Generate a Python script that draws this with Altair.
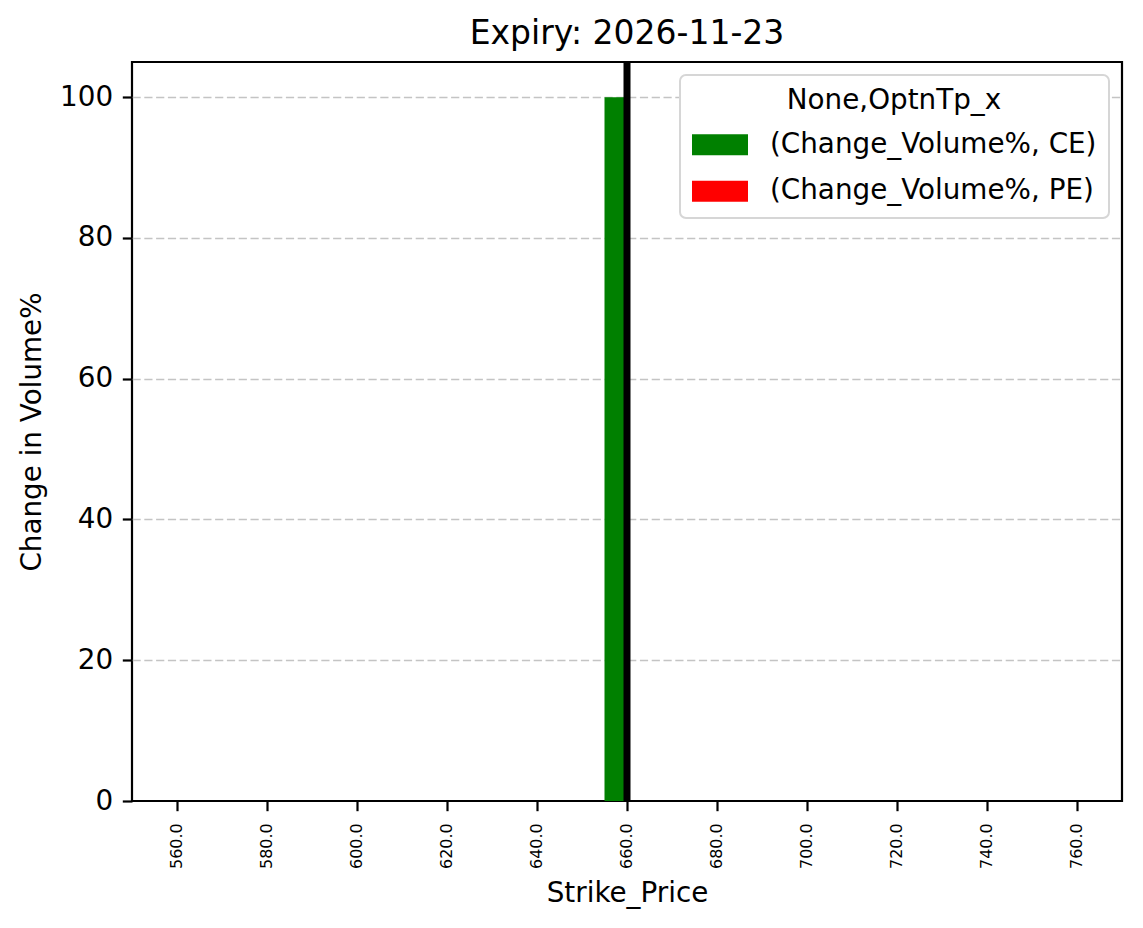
import altair as alt
import pandas as pd

strikes = ["560.0", "580.0", "600.0", "620.0", "640.0", "660.0",
           "680.0", "700.0", "720.0", "740.0", "760.0"]
ce_values = [0, 0, 0, 0, 0, 100, 0, 0, 0, 0, 0]
pe_values = [0, 0, 0, 0, 0, 0, 0, 0, 0, 0, 0]
series = ["(Change_Volume%, CE)", "(Change_Volume%, PE)"]
colors = ["#008000", "#ff0000"]
atm_strike = ["660.0"]
y_ticks = [0, 20, 40, 60, 80, 100]

rows = []
for s, c, p in zip(strikes, ce_values, pe_values):
    rows.append({"Strike_Price": s, "series": series[0], "value": c})
    rows.append({"Strike_Price": s, "series": series[1], "value": p})
df = pd.DataFrame(rows)
atm = pd.DataFrame({"Strike_Price": atm_strike})

FONT = "DejaVu Sans"

x_enc = alt.X(
    "Strike_Price:N",
    sort=strikes,
    scale=alt.Scale(domain=strikes, paddingInner=0.5, paddingOuter=0.25),
    axis=alt.Axis(
        title="Strike_Price",
        labelAngle=270,
        labelFontSize=16,
        labelPadding=12,
        tickSize=9.7,
        tickWidth=2.2,
        tickColor="black",
        grid=False,
        domain=False,
        titlePadding=11,
    ),
)

bars = alt.Chart(df).mark_bar().encode(
    x=x_enc,
    xOffset=alt.XOffset("series:N", sort=series,
                        scale=alt.Scale(domain=series, paddingInner=0, paddingOuter=0)),
    y=alt.Y(
        "value:Q",
        scale=alt.Scale(domain=[0, 105], nice=False, zero=True),
        axis=alt.Axis(
            title="Change in Volume%",
            values=y_ticks,
            labelFontSize=27.8,
            labelPadding=9.7,
            tickSize=9.7,
            tickWidth=2.2,
            tickColor="black",
            grid=True,
            gridColor="#c4c4c4",
            gridWidth=1.4,
            gridDash=[8.2, 3.6],
            gridOpacity={"condition": {"test": "datum.value === 0", "value": 0}, "value": 1},
            domain=False,
            titlePadding=13,
        ),
    ),
    color=alt.Color(
        "series:N",
        sort=series,
        scale=alt.Scale(domain=series, range=colors),
        legend=alt.Legend(title="None,OptnTp_x"),
    ),
)

rule = alt.Chart(atm).mark_rule(color="black", strokeWidth=7).encode(
    x=alt.X("Strike_Price:N", sort=strikes, bandPosition=0.5),
)

chart = (
    alt.layer(bars, rule)
    .properties(
        width=990,
        height=739,
        title=alt.TitleParams(
            "Expiry: 2026-11-23",
            fontSize=33,
            font=FONT,
            fontWeight="normal",
            color="black",
            anchor="middle",
            offset=8,
        ),
        autosize=alt.AutoSizeParams(type="none"),
        padding={"left": 124, "top": 54, "right": 13, "bottom": 119},
    )
    .configure_view(stroke="black", strokeWidth=2.2)
    .configure_axis(
        labelFont=FONT,
        titleFont=FONT,
        labelColor="black",
        titleColor="black",
        titleFontSize=27.8,
        titleFontWeight="normal",
    )
    .configure_legend(
        orient="top-right",
        offset=13,
        padding=12,
        strokeColor="#d6d6d6",
        strokeWidth=2,
        cornerRadius=6,
        fillColor="white",
        titleFont=FONT,
        labelFont=FONT,
        titleFontSize=27.8,
        labelFontSize=27.8,
        titleFontWeight="normal",
        titleColor="black",
        labelColor="black",
        titleAnchor="middle",
        titleLimit=600,
        titlePadding=2,
        symbolType="M-1,-0.375L1,-0.375L1,0.375L-1,0.375Z",
        symbolSize=3136,
        symbolStrokeWidth=0,
        symbolOpacity=1,
        labelOffset=22,
        rowPadding=4.5,
        labelLimit=600,
    )
)

chart.save("out.html", embed_options={"renderer": "svg", "actions": False})
